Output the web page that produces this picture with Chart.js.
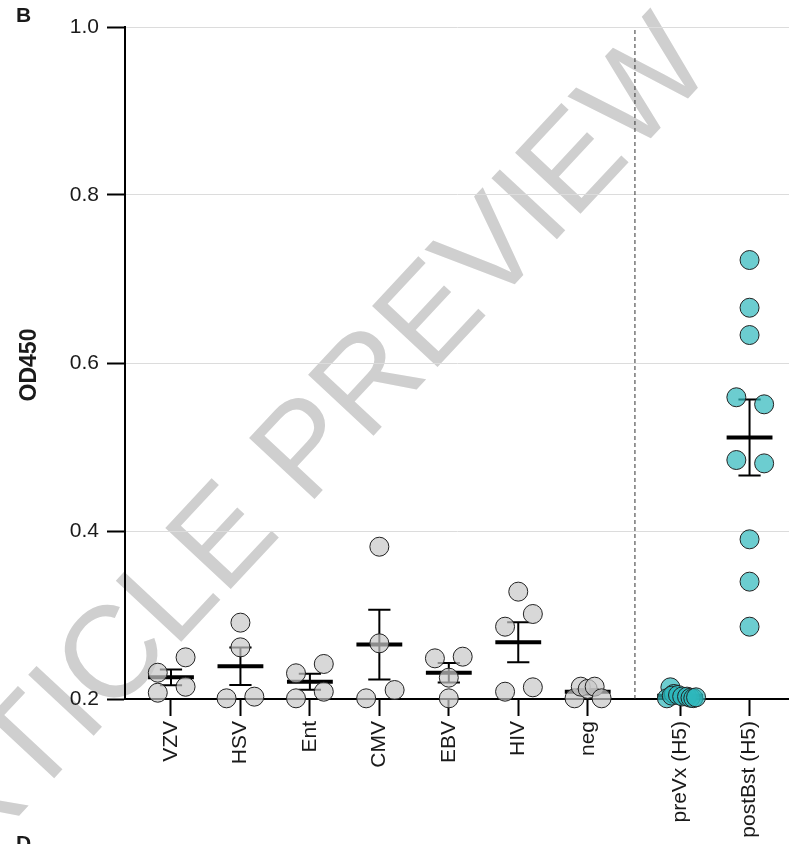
<!DOCTYPE html>
<html>
<head>
<meta charset="utf-8">
<script src="https://cdn.jsdelivr.net/npm/chart.js@4"></script>
<style>
  html, body { margin: 0; padding: 0; background: #fff; overflow: hidden; }
  #wrap { position: relative; width: 789px; height: 844px; font-family: Arial, "Liberation Sans", Helvetica, sans-serif; }
  #chart { position: absolute; left: 0; top: 0; z-index: 1; }
  .panel { position: absolute; left: 16px; font-weight: bold; font-size: 21px; line-height: 1; color: #1a1a1a; z-index: 2; }
  #ylab { position: absolute; left: 28px; top: 365px; transform: translate(-50%, -50%) rotate(-90deg);
          font-weight: bold; font-size: 23px; line-height: 1; white-space: nowrap; color: #1a1a1a; z-index: 2; }
  #mark { position: absolute; left: 280px; top: 470px; transform: translate(-50%, -50%) rotate(-47deg);
          font-size: 130px; line-height: 1; color: #cfcfcf; white-space: nowrap; z-index: 0; }
</style>
</head>
<body>
<div id="wrap">
  <div id="mark">ARTICLE PREVIEW</div>
  <canvas id="chart" width="789" height="844"></canvas>
  <div class="panel" style="top:4px">B</div>
  <div class="panel" style="top:832px">D</div>
  <div id="ylab">OD450</div>
</div>
<script>
// categories along the x axis
const categories = ['VZV', 'HSV', 'Ent', 'CMV', 'EBV', 'HIV', 'neg', 'preVx (H5)', 'postBst (H5)'];

// OD450 per sample
const vzv     = [0.2313, 0.2496, 0.2075, 0.2146];
const hsv     = [0.2909, 0.2615, 0.2008, 0.2028];
const ent     = [0.2306, 0.2417, 0.2008, 0.2087];
const cmv     = [0.3813, 0.2663, 0.2008, 0.2107];
const ebv     = [0.2484, 0.2504, 0.2254, 0.2008];
const hiv     = [0.3278, 0.3012, 0.2861, 0.2087, 0.2139];
const neg     = [0.2008, 0.2147, 0.2120, 0.2147, 0.2008];
const preVx   = [0.2139, 0.2008, 0.2060, 0.2040, 0.2048, 0.2030, 0.2028, 0.2015, 0.2010, 0.2020];
const postBst = [0.7226, 0.6658, 0.6333, 0.5592, 0.5508, 0.4845, 0.4805, 0.3901, 0.3397, 0.2861];

const groups = [vzv, hsv, ent, cmv, ebv, hiv, neg, preVx, postBst];
const yTicks = [0.2, 0.4, 0.6, 0.8, 1.0];

// horizontal scatter of the dots, in category widths
const jitter = [
    [-0.19, 0.21, -0.19, 0.21],
    [0, 0, -0.2, 0.2],
    [-0.2, 0.2, -0.2, 0.2],
    [0, 0, -0.19, 0.22],
    [-0.2, 0.2, 0, 0],
    [0, 0.21, -0.19, -0.19, 0.21],
    [-0.19, -0.1, 0, 0.1, 0.2],
    [-0.14, -0.19, -0.09, -0.12, -0.03, 0.03, 0.1, 0.15, 0.19, 0.23],
    [0, 0, 0, -0.19, 0.21, -0.19, 0.21, 0, 0, 0]
];

// the two H5 groups sit a bit apart, after the dashed divider
const groupPos = categories.map((c, i) => i < 7 ? i : i + 0.33);
const dividerX = 6.68;

const mean = a => a.reduce((s, v) => s + v, 0) / a.length;
const sem = a => {
    const m = mean(a);
    const sd = Math.sqrt(a.reduce((s, v) => s + (v - m) ** 2, 0) / (a.length - 1));
    return sd / Math.sqrt(a.length);
};

const dots = (from, to) => {
    const out = [];
    for (let g = from; g < to; g++) {
        groups[g].forEach((v, i) => out.push({ x: groupPos[g] + jitter[g][i], y: v }));
    }
    return out;
};

const gap = { x: null, y: null };
const meanLines = [];
const whiskers = [];
groups.forEach((vals, g) => {
    const x = groupPos[g], m = mean(vals), e = sem(vals);
    meanLines.push({ x: x - 0.33, y: m }, { x: x + 0.33, y: m }, gap);
    whiskers.push({ x: x, y: m - e }, { x: x, y: m + e }, gap);
    whiskers.push({ x: x - 0.16, y: m + e }, { x: x + 0.16, y: m + e }, gap);
    whiskers.push({ x: x - 0.16, y: m - e }, { x: x + 0.16, y: m - e }, gap);
});

// drop the label overhang chart.js reserves, so the plot runs to the edge
const noPad = s => { s.paddingLeft = 0; s.paddingRight = 0; s.paddingTop = 0; s.paddingBottom = 0; };

Chart.defaults.font.family = 'Arial, "Liberation Sans", Helvetica, sans-serif';
Chart.defaults.color = '#1a1a1a';

new Chart(document.getElementById('chart'), {
    type: 'scatter',
    data: {
        datasets: [
            {
                data: dots(0, 7),
                backgroundColor: 'rgba(200,200,200,0.7)',
                borderColor: '#222',
                borderWidth: 1,
                pointRadius: 9.5,
                clip: false,
                order: 0
            },
            {
                data: dots(7, 9),
                backgroundColor: 'rgba(45,184,188,0.7)',
                borderColor: '#222',
                borderWidth: 1,
                pointRadius: 9.5,
                clip: false,
                order: 0
            },
            {
                type: 'line',
                data: meanLines,
                borderColor: '#000',
                borderWidth: 4,
                pointRadius: 0,
                spanGaps: false,
                clip: false,
                order: 1
            },
            {
                type: 'line',
                data: whiskers,
                borderColor: '#000',
                borderWidth: 2,
                pointRadius: 0,
                spanGaps: false,
                clip: false,
                order: 1
            },
            {
                type: 'line',
                data: [{ x: dividerX, y: yTicks[0] }, { x: dividerX, y: yTicks[yTicks.length - 1] }],
                borderColor: '#333',
                borderWidth: 1,
                borderDash: [4, 3],
                pointRadius: 0,
                order: 2
            }
        ]
    },
    options: {
        responsive: false,
        animation: false,
        events: [],
        layout: { autoPadding: false, padding: { top: 27, right: 0, left: 0, bottom: 0 } },
        plugins: { legend: { display: false }, tooltip: { enabled: false } },
        scales: {
            x: {
                type: 'linear',
                min: -0.662,
                max: 8.898,
                afterFit: s => { s.height = 145; noPad(s); },
                afterBuildTicks: s => { s.ticks = groupPos.map(v => ({ value: v })); },
                border: { color: '#000', width: 2 },
                grid: { drawOnChartArea: false, tickLength: 17, tickColor: '#000', tickWidth: 2 },
                ticks: {
                    autoSkip: false,
                    minRotation: 90,
                    maxRotation: 90,
                    padding: 5,
                    font: { size: 21 },
                    callback: (v, i) => categories[i]
                }
            },
            y: {
                min: yTicks[0],
                max: yTicks[yTicks.length - 1],
                afterFit: s => { s.width = 125; noPad(s); },
                afterBuildTicks: s => { s.ticks = yTicks.map(v => ({ value: v })); },
                border: { color: '#000', width: 2 },
                grid: {
                    color: c => c.tick && c.tick.value > 0.21 ? '#dcdcdc' : 'rgba(0,0,0,0)',
                    lineWidth: 1,
                    tickLength: 18,
                    tickColor: '#000',
                    tickWidth: 2
                },
                ticks: {
                    padding: 8,
                    font: { size: 21 },
                    callback: v => v.toFixed(1)
                }
            }
        }
    }
});
</script>
</body>
</html>
